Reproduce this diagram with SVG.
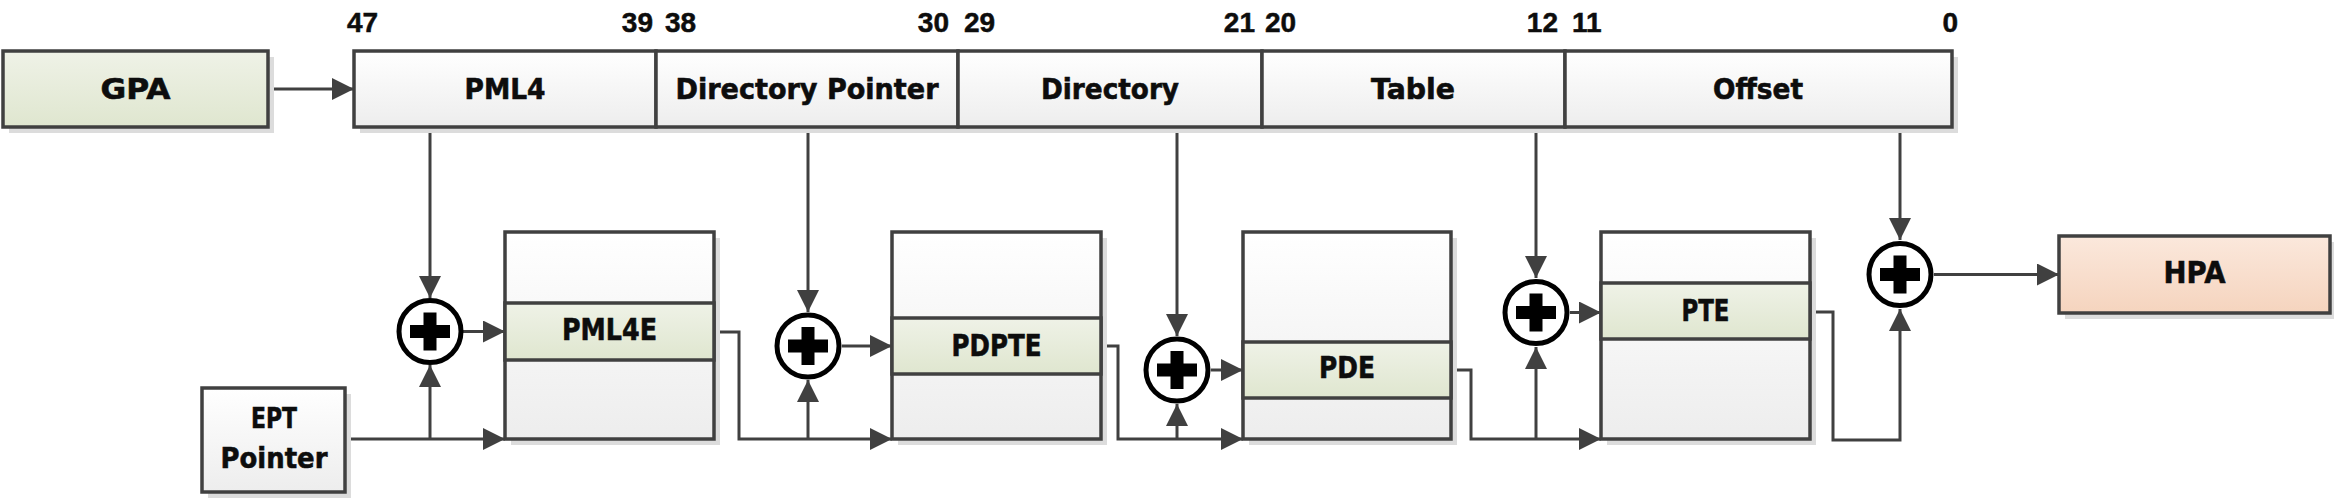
<svg xmlns="http://www.w3.org/2000/svg" width="2336" height="498" viewBox="0 0 2336 498">
<style>
.box{stroke:#404040;stroke-width:3.5}
.sh{fill:#dcdcdc}
.lbl{font-family:"DejaVu Sans",sans-serif;font-weight:bold;font-size:28px;fill:#0d0d0d;stroke:#0d0d0d;stroke-width:0.6;text-anchor:middle}
.big{font-size:31px}
.num{font-family:"Liberation Sans",Arial,sans-serif;font-weight:bold;font-size:28px;fill:#0d0d0d;stroke:#0d0d0d;stroke-width:0.5}
.end{text-anchor:end}
.c{fill:none;stroke:#404040;stroke-width:3}
.ring{fill:#fff;stroke:#000;stroke-width:5}
.plus{fill:#000}
</style>
<defs>
<linearGradient id="gW" x1="0" y1="0" x2="0" y2="1"><stop offset="0" stop-color="#ffffff"/><stop offset="1" stop-color="#ededed"/></linearGradient>
<linearGradient id="gG" x1="0" y1="0" x2="0" y2="1"><stop offset="0" stop-color="#eff2e7"/><stop offset="1" stop-color="#dfe6cf"/></linearGradient>
<linearGradient id="gP" x1="0" y1="0" x2="0" y2="1"><stop offset="0" stop-color="#fbe8dc"/><stop offset="1" stop-color="#f5d4be"/></linearGradient>
<marker id="ah" markerUnits="userSpaceOnUse" markerWidth="22" markerHeight="22" refX="22" refY="11" orient="auto"><path d="M0,0 L22,11 L0,22 z" fill="#404040"/></marker>
<g id="plusSym"><rect x="-20" y="-6.5" width="40" height="13"/><rect x="-6.5" y="-19" width="13" height="38"/></g>
</defs>

<!-- bit numbers -->
<g id="bits">
<text class="num" x="347" y="32">47</text>
<text class="num end" x="653" y="32">39</text>
<text class="num" x="665" y="32">38</text>
<text class="num end" x="949" y="32">30</text>
<text class="num" x="964" y="32">29</text>
<text class="num end" x="1255" y="32">21</text>
<text class="num" x="1265" y="32">20</text>
<text class="num end" x="1558" y="32">12</text>
<text class="num" x="1572" y="32">11</text>
<text class="num end" x="1958" y="32">0</text>
</g>

<!-- connectors -->
<g id="connectors">
<line class="c" x1="268" y1="89" x2="354" y2="89" marker-end="url(#ah)"/>
<line class="c" x1="430" y1="127" x2="430" y2="298" marker-end="url(#ah)"/>
<line class="c" x1="808" y1="127" x2="808" y2="312" marker-end="url(#ah)"/>
<line class="c" x1="1177" y1="127" x2="1177" y2="336" marker-end="url(#ah)"/>
<line class="c" x1="1536" y1="127" x2="1536" y2="278" marker-end="url(#ah)"/>
<line class="c" x1="1900" y1="127" x2="1900" y2="240" marker-end="url(#ah)"/>
<line class="c" x1="345" y1="439" x2="505" y2="439" marker-end="url(#ah)"/>
<line class="c" x1="430" y1="439" x2="430" y2="365" marker-end="url(#ah)"/>
<line class="c" x1="463" y1="331.5" x2="505" y2="331.5" marker-end="url(#ah)"/>
<path class="c" d="M714,332 H739 V439 H892" marker-end="url(#ah)"/>
<line class="c" x1="808" y1="439" x2="808" y2="380" marker-end="url(#ah)"/>
<line class="c" x1="842" y1="346" x2="892" y2="346" marker-end="url(#ah)"/>
<path class="c" d="M1101,346 H1118 V439 H1243" marker-end="url(#ah)"/>
<line class="c" x1="1177" y1="439" x2="1177" y2="404" marker-end="url(#ah)"/>
<line class="c" x1="1211" y1="370" x2="1243" y2="370" marker-end="url(#ah)"/>
<path class="c" d="M1451,370 H1471 V439 H1601" marker-end="url(#ah)"/>
<line class="c" x1="1536" y1="439" x2="1536" y2="347" marker-end="url(#ah)"/>
<line class="c" x1="1570" y1="312.5" x2="1601" y2="312.5" marker-end="url(#ah)"/>
<path class="c" d="M1810,312 H1833 V440 H1900 V309" marker-end="url(#ah)"/>
<line class="c" x1="1934" y1="274.5" x2="2059" y2="274.5" marker-end="url(#ah)"/>
</g>

<!-- GPA -->
<g id="gpa">
<rect class="sh" x="9" y="57" width="265" height="76"/>
<rect class="box" x="3" y="51" width="265" height="76" fill="url(#gG)"/>
<text class="lbl" x="135.5" y="99" textLength="70" lengthAdjust="spacingAndGlyphs" style="font-size:29px">GPA</text>
</g>

<!-- address fields -->
<rect class="sh" x="360" y="57" width="1598" height="76"/>
<g id="f-pml4">
<rect class="box" x="354" y="51" width="302" height="76" fill="url(#gW)"/>
<text class="lbl" x="505" y="99" textLength="81" lengthAdjust="spacingAndGlyphs">PML4</text>
</g>
<g id="f-dirptr">
<rect class="box" x="656" y="51" width="302" height="76" fill="url(#gW)"/>
<text class="lbl" x="807" y="99" textLength="263" lengthAdjust="spacingAndGlyphs">Directory Pointer</text>
</g>
<g id="f-dir">
<rect class="box" x="958" y="51" width="304" height="76" fill="url(#gW)"/>
<text class="lbl" x="1110" y="99" textLength="138" lengthAdjust="spacingAndGlyphs">Directory</text>
</g>
<g id="f-table">
<rect class="box" x="1262" y="51" width="303" height="76" fill="url(#gW)"/>
<text class="lbl" x="1413" y="99" textLength="84" lengthAdjust="spacingAndGlyphs">Table</text>
</g>
<g id="f-offset">
<rect class="box" x="1565" y="51" width="387" height="76" fill="url(#gW)"/>
<text class="lbl" x="1758" y="99" textLength="90" lengthAdjust="spacingAndGlyphs">Offset</text>
</g>

<!-- EPT pointer -->
<g id="ept">
<rect class="sh" x="208" y="394" width="143" height="104"/>
<rect class="box" x="202" y="388" width="143" height="104" fill="url(#gW)"/>
<text class="lbl" x="274" y="428" textLength="46" lengthAdjust="spacingAndGlyphs" style="font-size:29px">EPT</text>
<text class="lbl" x="274" y="468" textLength="107" lengthAdjust="spacingAndGlyphs" style="font-size:29px">Pointer</text>
</g>

<!-- adders -->
<g id="add1"><circle class="ring" cx="430" cy="331.5" r="31"/><use href="#plusSym" class="plus" x="430" y="331.5"/></g>
<g id="add2"><circle class="ring" cx="808" cy="346" r="31"/><use href="#plusSym" class="plus" x="808" y="346"/></g>
<g id="add3"><circle class="ring" cx="1177" cy="370" r="31"/><use href="#plusSym" class="plus" x="1177" y="370"/></g>
<g id="add4"><circle class="ring" cx="1536" cy="312.5" r="31"/><use href="#plusSym" class="plus" x="1536" y="312.5"/></g>
<g id="add5"><circle class="ring" cx="1900" cy="274.5" r="31"/><use href="#plusSym" class="plus" x="1900" y="274.5"/></g>

<!-- tables -->
<g id="t-pml4">
<rect class="sh" x="511" y="238" width="209" height="207"/>
<rect class="box" x="505" y="232" width="209" height="207" fill="url(#gW)"/>
<rect class="box" x="505" y="303" width="209" height="57" fill="url(#gG)"/>
<text class="lbl big" x="609.5" y="340" textLength="95" lengthAdjust="spacingAndGlyphs">PML4E</text>
</g>
<g id="t-pdpt">
<rect class="sh" x="898" y="238" width="209" height="207"/>
<rect class="box" x="892" y="232" width="209" height="207" fill="url(#gW)"/>
<rect class="box" x="892" y="318" width="209" height="56" fill="url(#gG)"/>
<text class="lbl big" x="996.5" y="356" textLength="90" lengthAdjust="spacingAndGlyphs">PDPTE</text>
</g>
<g id="t-pd">
<rect class="sh" x="1249" y="238" width="208" height="207"/>
<rect class="box" x="1243" y="232" width="208" height="207" fill="url(#gW)"/>
<rect class="box" x="1243" y="342" width="208" height="56" fill="url(#gG)"/>
<text class="lbl big" x="1347" y="378" textLength="56" lengthAdjust="spacingAndGlyphs">PDE</text>
</g>
<g id="t-pt">
<rect class="sh" x="1607" y="238" width="209" height="207"/>
<rect class="box" x="1601" y="232" width="209" height="207" fill="url(#gW)"/>
<rect class="box" x="1601" y="283" width="209" height="56" fill="url(#gG)"/>
<text class="lbl big" x="1705.5" y="321" textLength="48" lengthAdjust="spacingAndGlyphs">PTE</text>
</g>

<!-- HPA -->
<g id="hpa">
<rect class="sh" x="2065" y="242" width="269" height="77"/>
<rect class="box" x="2059" y="236" width="271" height="77" fill="url(#gP)"/>
<text class="lbl big" x="2194.5" y="283" textLength="62" lengthAdjust="spacingAndGlyphs">HPA</text>
</g>
</svg>
